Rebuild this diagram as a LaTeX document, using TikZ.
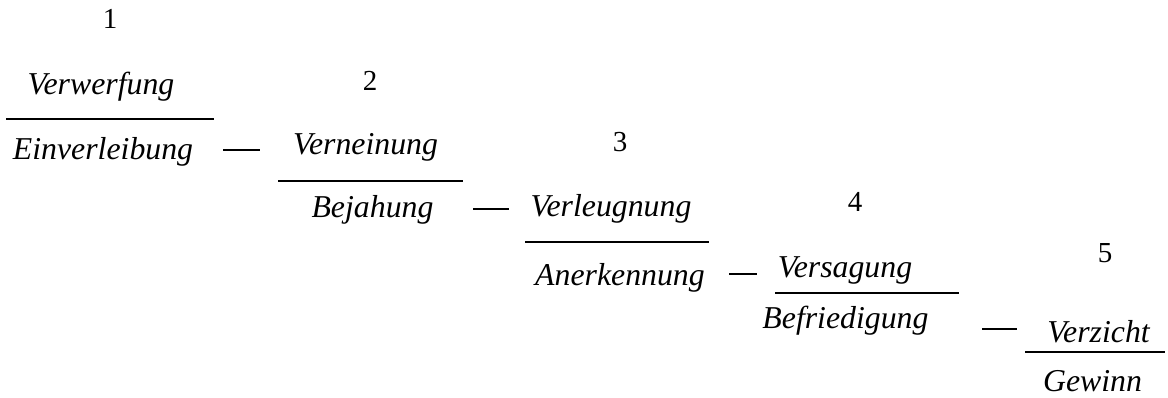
\documentclass[tikz,border=0pt]{standalone}
\usepackage{fontspec}
\setmainfont{Liberation Serif}
\begin{document}
\begin{tikzpicture}[x=1pt,y=-1pt,
  term/.style={anchor=base,inner sep=0pt,font=\fontsize{31.8}{38}\selectfont\itshape},
  num/.style={anchor=base,inner sep=0pt,font=\fontsize{29}{34}\selectfont},
  bar/.style={line width=2.6pt},
  link/.style={line width=2pt}]
\useasboundingbox (0,0) rectangle (1168,398);

% stage numbers
\node[num] (n1) at (110,29)  {1};
\node[num] (n2) at (370,91)  {2};
\node[num] (n3) at (620,152) {3};
\node[num] (n4) at (855,212) {4};
\node[num] (n5) at (1105,263) {5};

% fractions: numerator over denominator
\node[term] (t1) at (101,95)    {Verwerfung};
\node[term] (b1) at (103,160)   {Einverleibung};
\node[term] (t2) at (365.5,155) {Verneinung};
\node[term] (b2) at (372.5,218) {Bejahung};
\node[term] (t3) at (611,217)   {Verleugnung};
\node[term] (b3) at (620,286)   {Anerkennung};
\node[term] (t4) at (845,278)   {Versagung};
\node[term] (b4) at (845.5,328) {Befriedigung};
\node[term] (t5) at (1098.5,342){Verzicht};
\node[term] (b5) at (1092.5,391){Gewinn};

% fraction bars
\coordinate (r1a) at (6,119);    \coordinate (r1b) at (214,119);
\coordinate (r2a) at (278,181);  \coordinate (r2b) at (463,181);
\coordinate (r3a) at (525,242);  \coordinate (r3b) at (709,242);
\coordinate (r4a) at (775,293);  \coordinate (r4b) at (959,293);
\coordinate (r5a) at (1025,352); \coordinate (r5b) at (1165,352);
\foreach \i in {1,...,5} \draw[bar] (r\i a) -- (r\i b);

% dashes linking each denominator to the next numerator
\coordinate (d1a) at (223,150); \coordinate (d1b) at (260,150);
\coordinate (d2a) at (473,209); \coordinate (d2b) at (509,209);
\coordinate (d3a) at (729,274); \coordinate (d3b) at (757,274);
\coordinate (d4a) at (982,329); \coordinate (d4b) at (1017,329);
\foreach \i in {1,...,4} \draw[link] (d\i a) -- (d\i b);
\end{tikzpicture}
\end{document}
